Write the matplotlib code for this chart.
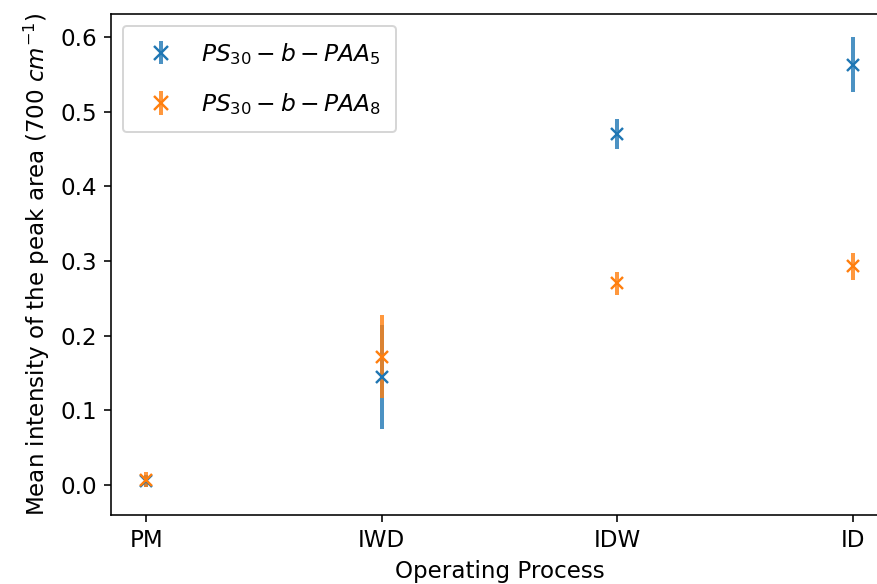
import matplotlib
matplotlib.use("Agg")
import matplotlib.pyplot as plt

categories = ["PM", "IWD", "IDW", "ID"]
paa5_mean = [0.005, 0.145, 0.470, 0.563]
paa5_err = [0.008, 0.070, 0.020, 0.037]
paa8_mean = [0.007, 0.172, 0.270, 0.293]
paa8_err = [0.010, 0.056, 0.016, 0.018]

plt.rcParams["font.size"] = 11.5

fig = plt.figure(figsize=(877 / 144, 584 / 144), dpi=144)
# axes run past the right edge, like the cropped original
ax = fig.add_axes([0.1266, 0.1182, 0.886, 0.858])

for mean, err, lab in [(paa5_mean, paa5_err, r"$PS_{30}-b-PAA_5$"),
                       (paa8_mean, paa8_err, r"$PS_{30}-b-PAA_8$")]:
    _, _, bars = ax.errorbar(categories, mean, yerr=err, fmt="x", markersize=6,
                             markeredgewidth=1.2, elinewidth=2, label=lab)
    for b in bars:
        b.set_alpha(0.8)

ax.set_xlim(-0.15, 3.15)
ax.set_ylim(-0.04, 0.631)
ax.set_xlabel("Operating Process")
ax.set_ylabel(r"Mean intensity of the peak area (700 $cm^{-1}$)")
ax.legend(loc="upper left", fontsize=11.7, labelspacing=1.05, borderpad=0.65,
          markerscale=1.2, handletextpad=0.7)

fig.savefig("out.png", dpi=144)
